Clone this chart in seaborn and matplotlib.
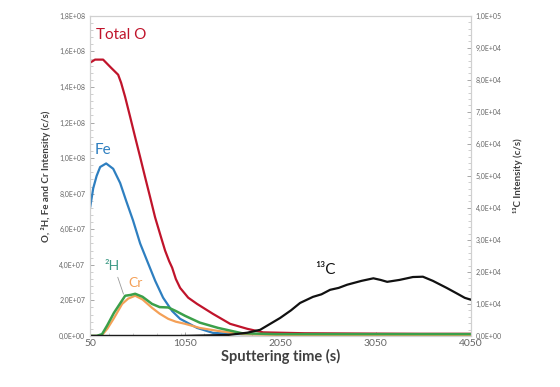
import numpy as np
import pandas as pd
import matplotlib
matplotlib.use("Agg")
import matplotlib.pyplot as plt
import seaborn as sns
from matplotlib.ticker import FuncFormatter, MultipleLocator, AutoMinorLocator

# Depth profile readings (left axis in c/s, 13C on right axis)
t_o = [50, 102, 186, 270, 344, 375, 417, 470, 522, 575, 627, 680, 732, 795,
       837, 880, 911, 950, 995, 1080, 1173, 1340, 1520, 1700, 1867, 2300,
       3000, 3500, 4050]
total_o = [15.37e7, 15.54e7, 15.54e7, 15.08e7, 14.69e7, 14.24e7, 13.45e7,
           12.32e7, 11.19e7, 10.06e7, 8.93e7, 7.8e7, 6.67e7, 5.54e7, 4.8e7,
           4.2e7, 3.84e7, 3.2e7, 2.7e7, 2.15e7, 1.8e7, 1.24e7, 0.68e7, 0.4e7,
           0.2e7, 0.15e7, 0.13e7, 0.12e7, 0.12e7]

t_fe = [50, 82, 118, 155, 218, 292, 365, 428, 500, 575, 650, 733, 816, 911,
        995, 1173, 1340, 1600, 2500, 4050]
fe = [7.23e7, 8.3e7, 9.0e7, 9.5e7, 9.7e7, 9.4e7, 8.6e7, 7.6e7, 6.5e7, 5.2e7,
      4.2e7, 3.1e7, 2.15e7, 1.4e7, 0.96e7, 0.45e7, 0.17e7, 0.1e7, 0.1e7, 0.1e7]

t_h = [50, 120, 175, 230, 300, 386, 418, 470, 523, 600, 700, 780, 870, 950,
       1047, 1200, 1394, 1645, 2000, 3000, 4050]
h2 = [0, 0, 0.1e7, 0.6e7, 1.3e7, 2.0e7, 2.26e7, 2.3e7, 2.37e7, 2.2e7, 1.8e7,
      1.62e7, 1.6e7, 1.4e7, 1.13e7, 0.75e7, 0.45e7, 0.15e7, 0.1e7, 0.1e7, 0.1e7]

t_cr = [50, 120, 175, 230, 300, 386, 450, 523, 600, 700, 780, 870, 950, 1047,
        1200, 1394, 1645, 2000, 3000, 4050]
cr = [0, 0, 0.05e7, 0.4e7, 1.0e7, 1.8e7, 2.1e7, 2.26e7, 2.05e7, 1.58e7, 1.25e7,
      0.96e7, 0.8e7, 0.68e7, 0.45e7, 0.28e7, 0.1e7, 0.06e7, 0.05e7, 0.05e7]

t_c = [50, 500, 1000, 1500, 1700, 1835, 2045, 2160, 2255, 2390, 2480, 2570,
       2660, 2750, 2900, 3025, 3100, 3170, 3300, 3440, 3545, 3650, 3795,
       3900, 3985, 4050]
c13 = [0, 0, 0, 0.03e4, 0.1e4, 0.19e4, 0.56e4, 0.8e4, 1.03e4, 1.22e4, 1.3e4,
       1.44e4, 1.5e4, 1.6e4, 1.72e4, 1.8e4, 1.75e4, 1.69e4, 1.75e4, 1.84e4,
       1.85e4, 1.72e4, 1.5e4, 1.33e4, 1.19e4, 1.13e4]

x_ticks = [50, 1050, 2050, 3050, 4050]

sns.set_style("white")
plt.rcParams['font.family'] = ['Lato', 'DejaVu Sans']

colors = {'Total O': '#C0142B', 'Fe': '#2E7FC0', 'H': '#3BA04A',
          'Cr': '#F4A057', 'C': '#111111'}
spine_col = '#D0D0D0'
tick_col = '#666666'


def sci_comma(v, pos):
    return '{:.1E}'.format(v).replace('.', ',')


fig = plt.figure(figsize=(5.6, 3.87), dpi=100)
ax = fig.add_axes([0.161, 0.132, 0.68, 0.827])
ax2 = ax.twinx()

sns.lineplot(x=t_o, y=total_o, ax=ax, color=colors['Total O'], lw=1.6)
sns.lineplot(x=t_fe, y=fe, ax=ax, color=colors['Fe'], lw=1.6)
sns.lineplot(x=t_cr, y=cr, ax=ax, color=colors['Cr'], lw=1.6)
sns.lineplot(x=t_h, y=h2, ax=ax, color=colors['H'], lw=1.8)
sns.lineplot(x=t_c, y=c13, ax=ax2, color=colors['C'], lw=1.6)

ax.set_xlim(50, 4050)
ax.set_ylim(0, 1.8e8)
ax2.set_ylim(0, 1.0e5)
ax.set_xticks(x_ticks)
ax.xaxis.set_minor_locator(MultipleLocator(250))
ax.yaxis.set_major_locator(MultipleLocator(2e7))
ax.yaxis.set_minor_locator(AutoMinorLocator(5))
ax2.yaxis.set_major_locator(MultipleLocator(1e4))
ax2.yaxis.set_minor_locator(AutoMinorLocator(5))
ax.yaxis.set_major_formatter(FuncFormatter(sci_comma))
ax2.yaxis.set_major_formatter(FuncFormatter(sci_comma))

for a in (ax, ax2):
    for s in a.spines.values():
        s.set_color(spine_col)
        s.set_linewidth(0.8)
    a.tick_params(which='major', length=3, width=0.6, color='#999999',
                  labelsize=5, labelcolor=tick_col)
    a.tick_params(which='minor', length=2, width=0.5, color='#BBBBBB')
ax.tick_params(axis='x', labelsize=7.5, labelcolor='#666666', pad=2)
ax.tick_params(axis='y', which='both', left=True, direction='in')
ax2.tick_params(axis='y', which='both', right=True, direction='in')
ax.tick_params(axis='x', which='both', bottom=True, direction='in')

ax.set_xlabel('Sputtering time (s)', fontsize=10.5, fontweight='bold',
              color='#404040', labelpad=1)
ax.set_ylabel('O, ²H, Fe and Cr Intensity (c/s)', fontsize=7,
              fontweight='bold', color='#404040', labelpad=6)
ax2.set_ylabel('¹³C Intensity (c/s)', fontsize=7, fontweight='bold',
               color='#404040', labelpad=8)

# curve labels
ax.text(110, 1.69e8, 'Total O', color=colors['Total O'], fontsize=11,
        va='center', ha='left')
ax.text(95, 1.045e8, 'Fe', color=colors['Fe'], fontsize=11,
        va='center', ha='left')
ax.text(200, 3.95e7, '²H', color='#3E9A86', fontsize=10,
        va='center', ha='left')
ax.text(450, 2.95e7, 'Cr', color=colors['Cr'], fontsize=10,
        va='center', ha='left')
ax.plot([340, 400], [3.3e7, 2.35e7], color='#999999', lw=0.6)
ax2.text(2410, 2.06e4, '¹³C', color=colors['C'], fontsize=11,
         va='center', ha='left')

fig.savefig('out.png', dpi=100)
